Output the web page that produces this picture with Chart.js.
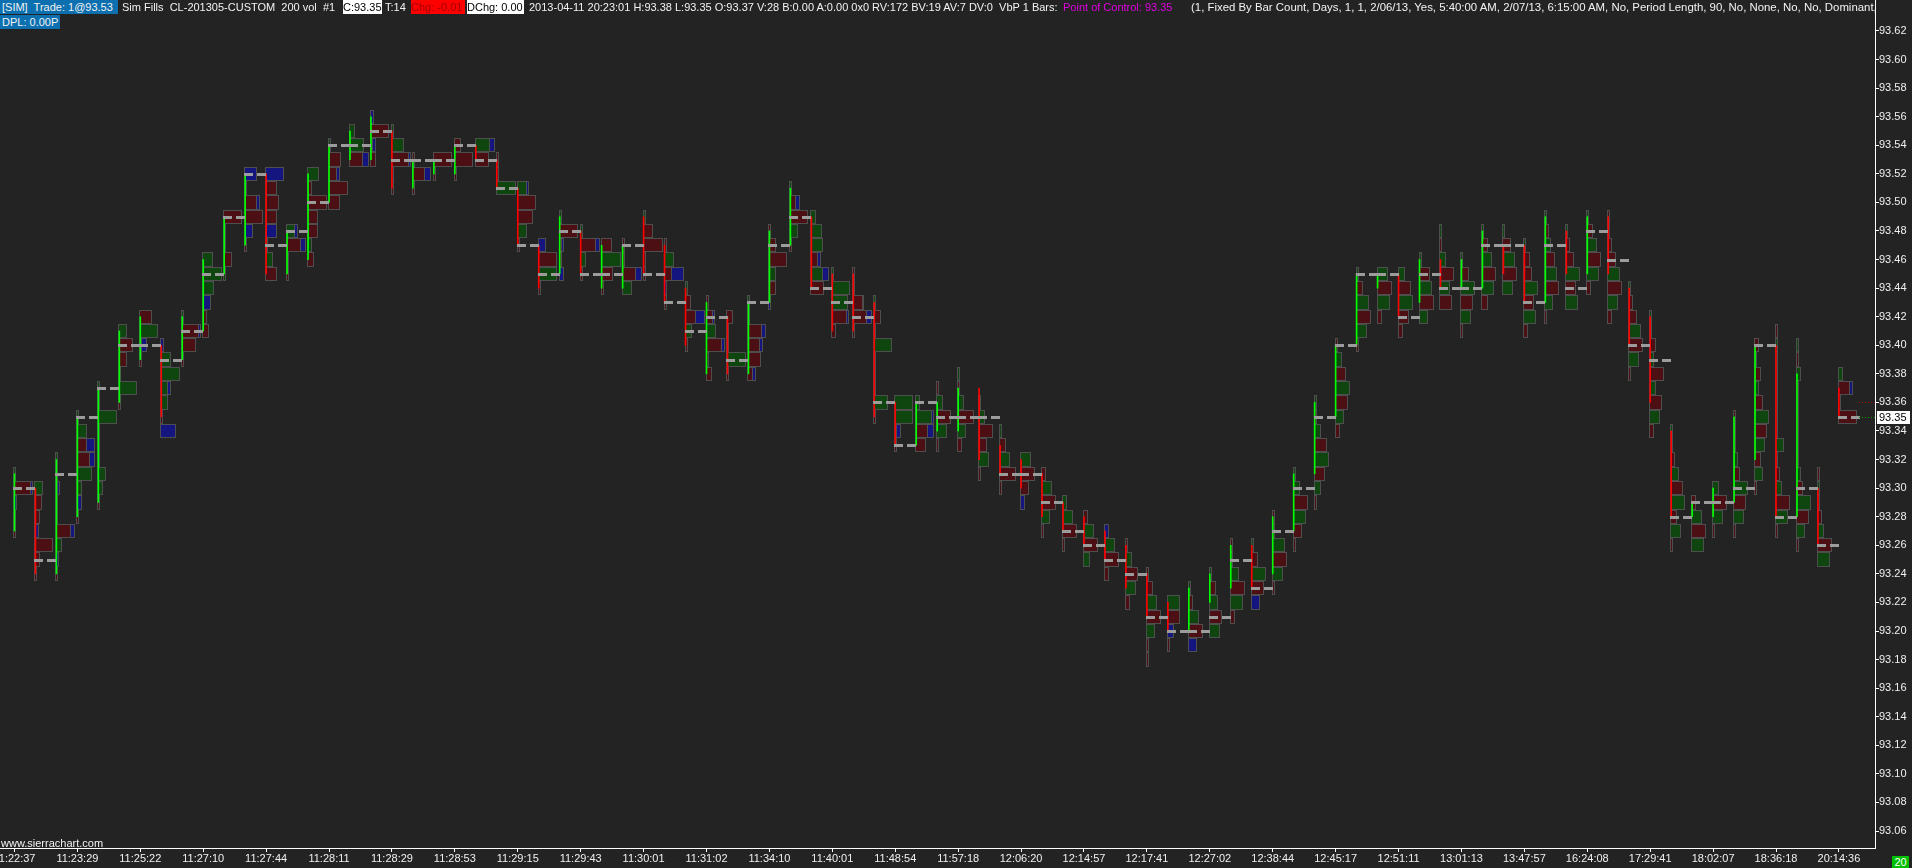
<!DOCTYPE html>
<html>
<head>
<meta charset="utf-8">
<script src="https://cdn.jsdelivr.net/npm/chart.js@4.4.1/dist/chart.umd.min.js"></script>
<style>
  body { margin: 0; background: #232323; overflow: hidden; font-family: "Liberation Sans", Arial, sans-serif; font-size: 11px; color: #f2f2f2; }
  #wrap { position: relative; width: 1912px; height: 868px; }
  #hdr { position: absolute; left: 0; top: 0; width: 1875px; height: 30px; overflow: hidden; }
  .t { position: absolute; white-space: pre; line-height: 14px; height: 14px; }
</style>
</head>
<body>
<div id="wrap">
  <canvas id="c" width="1912" height="868"></canvas>
  <div id="hdr">
    <span class="t" style="left:0;top:0;width:116px;padding-left:2px;background:#0b6fb0">[SIM]  Trade: 1@93.53</span>
    <span class="t" style="left:122px;top:0">Sim Fills  CL-201305-CUSTOM  200 vol  #1</span>
    <span class="t" style="left:343px;top:0;width:39px;background:#fff;color:#000">C:93.35</span>
    <span class="t" style="left:385px;top:0">T:14</span>
    <span class="t" style="left:411px;top:0;width:54px;background:#f00;color:#a00000">Chg: -0.01</span>
    <span class="t" style="left:467px;top:0;width:57px;background:#fff;color:#000">DChg: 0.00</span>
    <span class="t" style="left:529px;top:0">2013-04-11 20:23:01 H:93.38 L:93.35 O:93.37 V:28 B:0.00 A:0.00 0x0 RV:172 BV:19 AV:7 DV:0  VbP 1 Bars: </span>
    <span class="t" style="left:1063px;top:0;color:#e000e0">Point of Control: 93.35</span>
    <span class="t" style="left:1191px;top:0;font-size:11.4px">(1, Fixed By Bar Count, Days, 1, 1, 2/06/13, Yes, 5:40:00 AM, 2/07/13, 6:15:00 AM, No, Period Length, 90, No, None, No, No, Dominant, No</span>
    <span class="t" style="left:0;top:15px;width:58px;padding-left:2px;background:#0b6fb0">DPL: 0.00P</span>
  </div>
  <span class="t" style="left:1px;top:836px">www.sierrachart.com</span>
  <span class="t" style="left:1892px;top:856px;width:17px;height:12px;line-height:12px;text-align:center;background:#00c000;color:#fff">20</span>
</div>
<script>
// tick labels (every third bar) and price axis
const timeLabels = ['11:22:37','11:23:29','11:25:22','11:27:10','11:27:44','11:28:11','11:28:29','11:28:53','11:29:15','11:29:43',
  '11:30:01','11:31:02','11:34:10','11:40:01','11:48:54','11:57:18','12:06:20','12:14:57','12:17:41','12:27:02',
  '12:38:44','12:45:17','12:51:11','13:01:13','13:47:57','16:24:08','17:29:41','18:02:07','18:36:18','20:14:36'];
const priceTicks = [93.06,93.08,93.10,93.12,93.14,93.16,93.18,93.20,93.22,93.24,93.26,93.28,93.30,93.32,93.34,
  93.36,93.38,93.40,93.42,93.44,93.46,93.48,93.50,93.52,93.54,93.56,93.58,93.60,93.62];

// one entry per 200-volume bar
const opens = [93.27,93.30,93.24,93.28,93.29,93.36,93.39,93.40,93.39,93.41, 93.45,93.47,93.52,93.45,93.46,93.50,93.53,93.53,93.55,93.51,
  93.52,93.52,93.54,93.53,93.51,93.47,93.45,93.48,93.44,93.44, 93.49,93.47,93.44,93.38,93.42,93.38,93.43,93.47,93.49,93.45,
  93.45,93.43,93.36,93.33,93.34,93.34,93.37,93.33,93.32,93.31, 93.29,93.28,93.27,93.26,93.24,93.22,93.20,93.22,93.23,93.26,
  93.24,93.27,93.31,93.35,93.40,93.44,93.45,93.43,93.46,93.44, 93.44,93.47,93.47,93.43,93.48,93.45,93.49,93.44,93.42,93.34,
  93.28,93.28,93.29,93.32,93.40,93.28,93.30,93.37];
const closes = [93.31,93.24,93.32,93.35,93.37,93.41,93.42,93.35,93.42,93.46, 93.49,93.52,93.45,93.48,93.52,93.54,93.55,93.56,93.51,93.53,
  93.53,93.54,93.53,93.51,93.47,93.44,93.49,93.45,93.47,93.47, 93.45,93.43,93.40,93.43,93.38,93.43,93.48,93.51,93.44,93.41,
  93.41,93.35,93.33,93.36,93.36,93.37,93.32,93.31,93.30,93.28, 93.27,93.26,93.25,93.23,93.21,93.20,93.23,93.24,93.26,93.23,
  93.28,93.31,93.36,93.40,93.45,93.45,93.42,93.46,93.44,93.46, 93.48,93.45,93.43,93.49,93.45,93.49,93.45,93.40,93.36,93.28,
  93.29,93.30,93.35,93.40,93.28,93.38,93.26,93.35];
const lows = [93.27,93.24,93.24,93.28,93.29,93.36,93.39,93.34,93.39,93.41, 93.45,93.47,93.45,93.45,93.46,93.50,93.53,93.53,93.51,93.51,
  93.52,93.52,93.53,93.51,93.47,93.44,93.45,93.45,93.44,93.44, 93.45,93.43,93.40,93.38,93.38,93.38,93.43,93.47,93.44,93.41,
  93.41,93.35,93.33,93.33,93.33,93.33,93.31,93.30,93.29,93.27, 93.26,93.25,93.24,93.22,93.18,93.19,93.19,93.20,93.21,93.22,
  93.23,93.26,93.29,93.34,93.40,93.42,93.41,93.42,93.43,93.41, 93.43,93.44,93.41,93.42,93.43,93.44,93.42,93.38,93.34,93.26,
  93.26,93.27,93.27,93.30,93.27,93.26,93.25,93.35];
const pocs = [93.30,93.25,93.31,93.35,93.37,93.40,93.40,93.39,93.41,93.45, 93.49,93.52,93.47,93.48,93.50,93.54,93.54,93.55,93.53,93.53,
  93.53,93.54,93.53,93.51,93.47,93.45,93.48,93.45,93.45,93.47, 93.45,93.43,93.41,93.42,93.39,93.43,93.47,93.49,93.44,93.43,
  93.42,93.36,93.33,93.36,93.35,93.35,93.35,93.31,93.31,93.29, 93.27,93.26,93.25,93.24,93.21,93.20,93.20,93.21,93.25,93.23,
  93.27,93.30,93.35,93.40,93.45,93.45,93.42,93.45,93.44,93.44, 93.47,93.47,93.43,93.47,93.44,93.48,93.46,93.40,93.39,93.28,
  93.29,93.29,93.30,93.40,93.28,93.30,93.26,93.35];
// volume at price, from the low upwards: r = bid side, g = ask side, b = neutral (trailing bN = extra neutral volume)
const profiles = [
  'r2 r2 b3 r17b2 g2', 'r2 r5 r18 b4 r5 r7 g8', 'r2 b3 g6 r15b4 r2 r2 g2b2 g2 g2', 'r2 b5 g5 g15 r13b5 r10b8 g10 g2',
  'r2 g5 g8 r2 r2 r2 g19 r2 g2', 'r2 g18 r2 r8 r14 g8', 'r2 r2b5 g18 r12', 'b15 r2 g7 g7b3 g19 g10 b3',
  'r2 r14 r17b2 g2', 'r6 r4 b8 g11 g19 g10', 'g2 r8 r2 r2 r18', 'r2 b8 r18 r12b3 r2 b12',
  'r11 g7 r2 b11 r11 r13 r11 b18', 'r2 r2 r14b5 g8b3', 'r6 g4 r10 r10 r19 r4 g11', 'r11 r19 r8b3 r12 g2',
  'r13b6 g14 g5', 'r5 r2b3 r18 b3', 'r2 r2 r17b2 g12 g2', 'r2 r12b6 r2',
  'r2 r18', 'r2 r18 r6', 'r13 g14b5', 'g19 r2 r2',
  'r2 g9 r15 r18 g9b2', 'r2 g18 r18 b7', 'b4 r2 r2b2 r18 g2', 'r2 g5 r15b4 g2',
  'r2 r11 g19 r10', 'g9 r13b6 r2 r2', 'r2 r2 r19 r9 g2', 'r2 b2 r7b12 g9 r2',
  'r2 g6 r10b9 r5 g2', 'r5 r2 r15b3 g9 r6b2 r2', 'r2 g19 r2 r2 r6', 'r5b3 r13 r12b3 r14b4 r2 g2',
  'b2 r7 g7 r18 r7 r2', 'r2 g8 r18 r6b4 g2', 'r13 g12b6 r7b3 g12 g11 g5', 'r4 r15b2 g16 g18 g2',
  'r2 r14b5 r10b1 b2 r2', 'r2 g14 r2 r2 r2 g18 r2 r7 g2', 'r2 r2b4 g18 g18', 'r10 r12b6 g16b2 g4',
  'r2 g10 r14 g6 r2', 'r4 g8 r16 g6 r2 g2', 'r2 g10 r8 r14 g6 r2', 'r2 r16 g10 r6 g2',
  'b4 r8 r14 g10', 'r2 g8 r14 g10 r4', 'r2 r14 g10 g4', 'g6 r14 g10 r4',
  'r4 r14 g10 b4', 'r4 g10 r12 g6 r2', 'r2 r2 g8 r14 g10 r6 r2', 'r2 b6 r12 g12',
  'b8 r14 g10 r4 g2', 'g10 r12 g8 r6 g2', 'r4 g12 r14 g8 g2 r2', 'b8 r12 g14 r6 g2',
  'r2 g10 r14 g12 g2 r2', 'r2 r8 g12 r14 g6 g2', 'r2 g6 r10 g14 r12 g6 r2 g2', 'r4 g8 r12 g14 r10 g6 r2',
  'r2 g10 r14 g12 r6 g2', 'r4 g12 r14 g10', 'r4 r10 g14 r12 g6', 'g8 r14 g12 r10 g2',
  'r12 g10 r14 g6 r2 g2', 'r2 g10 r12 g14 r8 g2', 'r6 g12 r14 g10 r6 g2', 'g10 r14 g12 r8 g2',
  'r4 g12 r10 g14 r8 r6 g2', 'r2 g8 r14 g12 r10 g6 r4 g2', 'g12 r10 g14 r8 r4 g2', 'r4 g12 r14 g10 r6 g2',
  'r4 g10 r14 g12 r8 r4 g2 r2', 'r2 g10 r14 g12 r8 r4 g2', 'r4 g10 r12 g6 r14 g4 r6 r2 g2', 'r2 g10 r6 g14 r12 g8 r4 r2 g2',
  'g12 r14 g10 r4', 'r2 g10 r14 g6', 'r2 g10 r12 g14 r6 g4 r2 g2 r2', 'r2 g8 r6 g10 r12 g14 r8 g4 r6 g2 r4',
  'r2 g12 r14 g6 r4 r2 g8 r2 g2 r2 r2 r2 g2 g2 r2', 'r2 g8 r12 g14 r6 g4 r2 g2 r2 r2 g2 r2 g4 r2 g2', 'g12 r14 g6 r4 r2 g2 r2', 'r18 r2 r11b3 g4'
];
const lastPrice = 93.35;
const fillLines = [{ price: 93.36, color: '#b00000' }, { price: 93.35, color: '#00a000' }];

const boxFill = { r: '#4c0f13', g: '#0f460f', b: '#151580' };

const profilePlugin = {
  id: 'profiles',
  beforeDatasetsDraw(chart) {
    const { ctx, chartArea: a, scales: { x, y } } = chart;
    ctx.save();
    ctx.beginPath(); ctx.rect(a.left, a.top, a.right - a.left, a.bottom - a.top); ctx.clip();
    ctx.lineWidth = 1;
    ctx.strokeStyle = '#4e4e4e';
    const box = (bx, by, w, h, c) => {
      ctx.fillStyle = c;
      ctx.fillRect(bx, by, w, h);
      ctx.strokeRect(bx + 0.5, by + 0.5, w - 1, h - 1);
    };
    profiles.forEach((p, i) => {
      const x0 = Math.round(x.getPixelForValue(i)) - 1;
      p.split(' ').forEach((tok, k) => {
        const m = tok.match(/^([rgb])(\d+)(?:b(\d+))?$/);
        const price = lows[i] + k * 0.01;
        const yt = Math.round(y.getPixelForValue(price + 0.005));
        const yb = Math.round(y.getPixelForValue(price - 0.005));
        const w = +m[2] + 1;
        box(x0, yt, w, yb - yt, boxFill[m[1]]);
        if (m[3]) box(x0 + w - 1, yt, +m[3] + 1, yb - yt, boxFill.b);
      });
    });
    ctx.restore();
  },
  afterDatasetsDraw(chart) {
    const { ctx, chartArea: a, scales: { x, y } } = chart;
    ctx.save();
    ctx.fillStyle = '#9c9c9c';
    pocs.forEach((p, i) => {
      const px = Math.round(x.getPixelForValue(i)) - 1;
      const py = Math.round(y.getPixelForValue(p)) - 1;
      ctx.fillRect(px, py, 9, 3);
      ctx.fillRect(px + 13, py, 9, 3);
    });
    ctx.setLineDash([1, 2]);
    fillLines.forEach(f => {
      const py = Math.round(y.getPixelForValue(f.price)) + 0.5;
      ctx.strokeStyle = f.color;
      ctx.beginPath(); ctx.moveTo(a.right - 16, py); ctx.lineTo(a.right, py); ctx.stroke();
    });
    ctx.setLineDash([]);
    const ly = Math.round(y.getPixelForValue(lastPrice));
    ctx.fillStyle = '#ffffff';
    ctx.fillRect(a.right + 2, ly - 6, 33, 13);
    ctx.fillStyle = '#000000';
    ctx.font = '11px "Liberation Sans", Arial, sans-serif';
    ctx.textBaseline = 'middle';
    ctx.fillText(lastPrice.toFixed(2), a.right + 4, ly + 1);
    ctx.restore();
  }
};

const tickFont = { family: '"Liberation Sans", Arial, sans-serif', size: 11 };

new Chart(document.getElementById('c'), {
  type: 'bar',
  data: {
    datasets: [{
      data: opens.map((o, i) => ({ x: i, y: [o, closes[i]] })),
      backgroundColor: opens.map((o, i) => closes[i] >= o ? '#00ff00' : '#ff0000'),
      barThickness: 1,
      borderWidth: 0
    }]
  },
  options: {
    responsive: false,
    animation: false,
    devicePixelRatio: 1,
    layout: { padding: 0 },
    plugins: { legend: { display: false }, tooltip: { enabled: false } },
    scales: {
      x: {
        type: 'linear', min: -0.69, max: 88.72, offset: false,
        border: { color: '#ffffff', width: 1 },
        grid: { offset: false, drawOnChartArea: false, drawTicks: true, tickLength: 4, color: '#ffffff' },
        ticks: {
          color: '#f0f0f0', font: tickFont, padding: 0, autoSkip: false, maxRotation: 0,
          callback: (v, idx) => timeLabels[idx]
        },
        afterBuildTicks: s => { s.ticks = timeLabels.map((t, k) => ({ value: k * 3 })); },
        afterFit: s => { s.height = 20; s.paddingLeft = 0; s.paddingRight = 0; }
      },
      y: {
        type: 'linear', position: 'right', min: 93.0481, max: 93.6417,
        border: { color: '#ffffff', width: 1 },
        grid: { drawOnChartArea: false, drawTicks: true, tickLength: 4, color: '#ffffff' },
        ticks: { color: '#f0f0f0', font: tickFont, padding: 0, callback: v => v.toFixed(2) },
        afterBuildTicks: s => { s.ticks = priceTicks.map(v => ({ value: v })); },
        afterFit: s => { s.width = 37; s.paddingTop = 0; s.paddingBottom = 0; }
      }
    }
  },
  plugins: [profilePlugin]
});
</script>
</body>
</html>
